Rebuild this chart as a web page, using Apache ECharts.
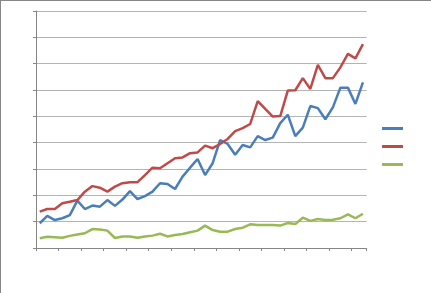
<!DOCTYPE html>
<html>
<head>
<meta charset="utf-8">
<script src="https://cdn.jsdelivr.net/npm/echarts@6/dist/echarts.min.js"></script>
<style>html,body{margin:0;padding:0;background:#fff;}#c{width:431px;height:293px;}</style>
</head>
<body>
<div id="c"></div>
<script>
var categories = [];
for (var i = 1; i <= 44; i++) categories.push(String(i));

var seriesBlue = [0.94,1.22,1.06,1.13,1.25,1.80,1.48,1.61,1.57,1.82,1.60,1.84,2.16,1.86,1.97,2.14,2.46,2.43,2.24,2.71,3.05,3.38,2.77,3.22,4.10,3.95,3.54,3.91,3.82,4.25,4.10,4.19,4.74,5.06,4.25,4.57,5.39,5.31,4.89,5.34,6.09,6.09,5.47,6.29];
var seriesRed = [1.38,1.48,1.48,1.70,1.76,1.82,2.14,2.35,2.29,2.14,2.33,2.46,2.50,2.50,2.77,3.05,3.03,3.22,3.41,3.44,3.60,3.63,3.89,3.79,3.95,4.14,4.44,4.55,4.71,5.58,5.28,4.99,5.01,5.98,5.99,6.45,6.04,6.95,6.45,6.45,6.86,7.37,7.20,7.74];
var seriesGreen = [0.37,0.43,0.41,0.39,0.46,0.51,0.56,0.72,0.70,0.66,0.38,0.44,0.44,0.39,0.44,0.47,0.54,0.44,0.49,0.53,0.60,0.66,0.85,0.68,0.62,0.62,0.72,0.77,0.90,0.87,0.87,0.87,0.85,0.95,0.91,1.15,1.03,1.10,1.06,1.07,1.13,1.28,1.13,1.30];
var seriesNames = ['Series1','Series2','Series3'];

var chart = echarts.init(document.getElementById('c'), null, {renderer:'canvas'});
function mk(name, data, color){
  return {name:name, type:'line', data:data, symbol:'none', smooth:false,
    lineStyle:{color:color, width:2.5}, itemStyle:{color:color}};
}
chart.setOption({
  animation:false,
  backgroundColor:'#ffffff',
  graphic:[
    {type:'line', shape:{x1:0.5,y1:0,x2:0.5,y2:293}, style:{stroke:'#868686', lineWidth:1}},
    {type:'line', shape:{x1:0,y1:0.5,x2:431,y2:0.5}, style:{stroke:'#868686', lineWidth:1}}
  ],
  grid:{left:36, right:64.3, top:11, bottom:45, containLabel:false},
  legend:{orient:'vertical', left:382, top:127, padding:0, itemWidth:21, itemHeight:3, itemGap:15,
    icon:'rect', formatter:function(){return '';}, textStyle:{fontSize:1}, selectedMode:false,
    data:seriesNames},
  xAxis:{type:'category', data:categories, boundaryGap:true,
    axisLine:{show:true, lineStyle:{color:'#868686', width:1}},
    axisTick:{show:true, length:3, alignWithLabel:false, lineStyle:{color:'#868686'}},
    axisLabel:{show:false}, splitLine:{show:false}},
  yAxis:{type:'value', min:0, max:9, interval:1,
    axisLine:{show:true, lineStyle:{color:'#868686', width:1}},
    axisTick:{show:true, length:3, lineStyle:{color:'#868686'}},
    axisLabel:{show:false},
    splitLine:{show:true, lineStyle:{color:'#b4b4b4', width:1}}},
  series:[
    mk(seriesNames[0], seriesBlue, '#4a7ebb'),
    mk(seriesNames[1], seriesRed, '#be4b48'),
    mk(seriesNames[2], seriesGreen, '#98b954')
  ]
});
</script>
</body>
</html>
